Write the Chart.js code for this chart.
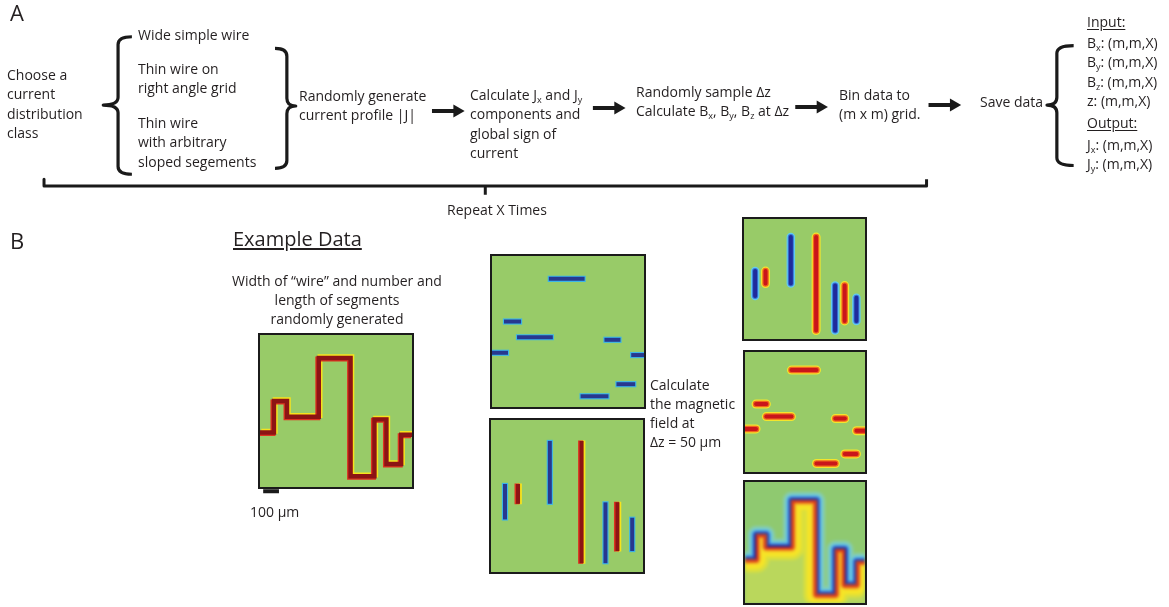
<!DOCTYPE html>
<html>
<head>
<meta charset="utf-8">
<script src="https://cdn.jsdelivr.net/npm/chart.js@4/dist/chart.umd.min.js"></script>
<style>
  html, body { margin: 0; padding: 0; background: #fff; }
  #page { position: relative; width: 1169px; height: 607px; overflow: hidden;
          font-family: "Open Sans", sans-serif; color: #231f20; }
  #flow { position: absolute; left: 0; top: 0; }
  .panel { position: absolute; border: 2px solid #1b1b1b; overflow: hidden; }
  .panel canvas { display: block; }
  .t { position: absolute; font-size: 14px; line-height: 19.5px; white-space: nowrap; }
  .t sub { font-size: 9px; vertical-align: -3px; line-height: 0; }
  .u { text-decoration: underline; text-underline-offset: 2px; }
  .big { font-size: 22px; line-height: 22px; }
</style>
</head>
<body>
<div id="page">
  <canvas id="flow" width="1169" height="607"></canvas>

  <div class="t big" style="left:10px;top:1px">A</div>
  <div class="t big" style="left:10px;top:229px">B</div>

  <div class="t" style="left:7px;top:64.6px">Choose a<br>current<br>distribution<br>class</div>
  <div id="classList"></div>
  <div class="t" style="left:299px;top:85.6px">Randomly generate<br>current profile |J|</div>
  <div class="t" style="left:470px;top:84.6px">Calculate J<sub>x</sub> and J<sub>y</sub><br>components and<br>global sign of<br>current</div>
  <div class="t" style="left:636px;top:81.6px">Randomly sample &Delta;z<br>Calculate B<sub>x</sub>, B<sub>y</sub>, B<sub>z</sub> at &Delta;z</div>
  <div class="t" style="left:839px;top:84.6px">Bin data to<br>(m x m) grid.</div>
  <div class="t" style="left:980px;top:91.6px">Save data</div>
  <div id="fieldList"></div>
  <div class="t" style="left:397px;top:199.6px;width:200px;text-align:center">Repeat X Times</div>

  <div class="t u" style="left:233px;top:227px;font-size:20px;line-height:24px">Example Data</div>
  <div class="t" style="left:207px;top:271px;width:260px;text-align:center;line-height:19px">Width of &ldquo;wire&rdquo; and number and<br>length of segments<br>randomly generated</div>
  <div class="t" style="left:250px;top:502px">100 &mu;m</div>
  <div class="t" style="left:650px;top:375px;line-height:19px">Calculate<br>the magnetic<br>field at<br>&Delta;z = 50 &mu;m</div>

  <div class="panel" style="left:258px;top:333px"><canvas id="pWire" width="152" height="152"></canvas></div>
  <div class="panel" style="left:490px;top:254px"><canvas id="pJx" width="152" height="151"></canvas></div>
  <div class="panel" style="left:489px;top:418px"><canvas id="pJy" width="152" height="152"></canvas></div>
  <div class="panel" style="left:742px;top:217px;background:#98cb68"><canvas id="pBx" width="121" height="120" style="filter:blur(0.6px)"></canvas></div>
  <div class="panel" style="left:743px;top:350px;background:#98cb68"><canvas id="pBy" width="120" height="120" style="filter:blur(0.6px)"></canvas></div>
  <div class="panel" style="left:743px;top:480px;background:#8fc970"><canvas id="pBz" width="120" height="121" style="filter:blur(1.4px)"></canvas></div>
</div>

<script>
// ---- text content ----
const currentClasses = [
  ['Wide simple wire'],
  ['Thin wire on', 'right angle grid'],
  ['Thin wire', 'with arbitrary', 'sloped segements']
];
const inputFields  = [['B', 'x'], ['B', 'y'], ['B', 'z'], ['z', '']];
const outputFields = [['J', 'x'], ['J', 'y']];
const fieldShape = '(m,m,X)';

// ---- example wire path (panel units 0-100, y measured upward) ----
const wireX = [0, 9.2, 9.2, 17.8, 17.8, 38.7, 38.7, 59.6, 59.6, 75.3, 75.3, 83.2, 83.2, 92.9, 92.9, 100];
const wireY = [35.9, 35.9, 56.6, 56.6, 46.2, 46.2, 84.9, 84.9, 7.1, 7.1, 44.5, 44.5, 15.1, 15.1, 34.4, 34.4];

// ---- text placement ----
(function () {
  const classTops = [24.6, 58.6, 112.6];
  document.getElementById('classList').innerHTML = currentClasses.map((lines, i) =>
    `<div class="t" style="left:138px;top:${classTops[i]}px">${lines.join('<br>')}</div>`).join('');
  const field = f => `${f[0]}${f[1] ? '<sub>' + f[1] + '</sub>' : ''}: ${fieldShape}`;
  const inTops = [32.6, 52, 71.6, 91.1];
  const outTops = [134.6, 153.6];
  let html = `<div class="t u" style="left:1087px;top:11.6px">Input:</div>`;
  html += inputFields.map((f, i) => `<div class="t" style="left:1087px;top:${inTops[i]}px">${field(f)}</div>`).join('');
  html += `<div class="t u" style="left:1087px;top:112.6px">Output:</div>`;
  html += outputFields.map((f, i) => `<div class="t" style="left:1087px;top:${outTops[i]}px">${field(f)}</div>`).join('');
  document.getElementById('fieldList').innerHTML = html;
})();

// ---- colours ----
const NAVY = '#27388f', CYAN = '#3cb6e8', DARKRED = '#8c1414', RED = '#dc3220', YELLOW = '#f7e31c';
const INK = '#1a1a1a';

function line(points, color, width, extra) {
  return Object.assign({
    data: points, showLine: true, borderColor: color, backgroundColor: color,
    borderWidth: width, pointRadius: 0, pointHoverRadius: 0, fill: false, tension: 0,
    borderCapStyle: 'butt', borderJoinStyle: 'miter'
  }, extra || {});
}

// datasets are listed bottom layer first; Chart.js paints lower "order" on top
function layered(datasets) {
  datasets.forEach((d, i) => { d.order = datasets.length - i; });
  return datasets;
}

// background colour of each panel's plot area
const panelBg = {
  id: 'panelBg',
  beforeDraw(chart, args, opts) {
    if (!opts.color) return;
    const a = chart.chartArea, ctx = chart.ctx;
    ctx.save(); ctx.fillStyle = opts.color;
    ctx.fillRect(a.left, a.top, a.right - a.left, a.bottom - a.top);
    ctx.restore();
  }
};

// per-dataset offset and one-sided clipping about the wire path
const layers = {
  id: 'layers',
  beforeDatasetDraw(chart, args) {
    const ds = chart.data.datasets[args.index];
    if (!ds.side && !ds.shift) return;
    const ctx = chart.ctx, xs = chart.scales.x, ys = chart.scales.y;
    ctx.save();
    if (ds.side) {
      ctx.beginPath();
      ds.sidePath.forEach((p, i) => {
        const px = xs.getPixelForValue(p.x), py = ys.getPixelForValue(p.y);
        i ? ctx.lineTo(px, py) : ctx.moveTo(px, py);
      });
      const edge = ds.side === 'below' ? ys.min : ys.max;
      const pad = ds.side === 'below' ? 4 : -4;
      const last = ds.sidePath[ds.sidePath.length - 1], first = ds.sidePath[0];
      ctx.lineTo(xs.getPixelForValue(last.x) + 4, ys.getPixelForValue(last.y));
      ctx.lineTo(xs.getPixelForValue(last.x) + 4, ys.getPixelForValue(edge) + pad);
      ctx.lineTo(xs.getPixelForValue(first.x) - 4, ys.getPixelForValue(edge) + pad);
      ctx.lineTo(xs.getPixelForValue(first.x) - 4, ys.getPixelForValue(first.y));
      ctx.closePath();
      ctx.clip();
    }
    if (ds.shift) ctx.translate(ds.shift[0], ds.shift[1]);
  },
  afterDatasetDraw(chart, args) {
    const ds = chart.data.datasets[args.index];
    if (ds.side || ds.shift) chart.ctx.restore();
  }
};

function makePanel(id, datasets, bg) {
  return new Chart(document.getElementById(id), {
    type: 'scatter',
    data: { datasets: layered(datasets) },
    options: {
      responsive: false, animation: false, events: [],
      layout: { padding: 0 },
      scales: {
        x: { type: 'linear', min: 0, max: 100, display: false },
        y: { type: 'linear', min: 0, max: 100, display: false }
      },
      plugins: { legend: { display: false }, tooltip: { enabled: false }, panelBg: { color: bg } }
    },
    plugins: [panelBg, layers]
  });
}

// ---- split the path into straight runs with their direction ----
const wirePts = wireX.map((x, i) => ({ x, y: wireY[i] }));
const runs = [];
for (let i = 1; i < wirePts.length; i++) {
  const a = wirePts[i - 1], b = wirePts[i];
  const horiz = a.y === b.y;
  runs.push({ pts: [a, b], horiz, dir: Math.sign(horiz ? b.x - a.x : b.y - a.y) });
}
const hRuns = runs.filter(r => r.horiz);
const vRuns = runs.filter(r => !r.horiz);

// sharp current-density strokes
function currentStroke(r) {
  const blue = r.dir > 0;
  const sq = { borderCapStyle: 'square' };
  if (blue) return [line(r.pts, CYAN, 6.2, sq), line(r.pts, NAVY, 4, sq)];
  const sx = r.horiz ? [0, -1.2] : [1.3, 0], rx = r.horiz ? [0, 1] : [-1, 0];
  return [
    line(r.pts, YELLOW, 5, Object.assign({ shift: sx }, sq)),
    line(r.pts, RED, 5, Object.assign({ shift: rx }, sq)),
    line(r.pts, DARKRED, 4, sq)
  ];
}
// smooth magnetic-field strokes
function fieldStroke(r, red) {
  const rc = { borderCapStyle: 'round' };
  if (red) return [line(r.pts, '#f4e52c', 9, rc), line(r.pts, '#f2661e', 6.5, rc), line(r.pts, '#c9161a', 4, rc)];
  return [line(r.pts, '#62cbf0', 8.5, rc), line(r.pts, '#3a76d6', 6, rc), line(r.pts, '#1e2b9c', 4, rc)];
}

// panel: example wire
makePanel('pWire', [
  line(wirePts, YELLOW, 5, { shift: [1.2, -1.2] }),
  line(wirePts, RED, 5, { shift: [-1, 1] }),
  line(wirePts, DARKRED, 4.4)
], '#98cb68');

// panels: Jx and Jy
makePanel('pJx', hRuns.flatMap(currentStroke), '#98cb68');
makePanel('pJy', vRuns.flatMap(currentStroke), '#98cb68');

// panels: Bx and By
makePanel('pBx', vRuns.flatMap(r => fieldStroke(r, r.dir < 0)), '#98cb68');
makePanel('pBy', hRuns.flatMap(r => fieldStroke(r, r.dir > 0)), '#98cb68');

// panel: Bz — positive below the path, negative above
const up = { side: 'above', sidePath: wirePts, borderJoinStyle: 'round' };
const dn = { side: 'below', sidePath: wirePts, borderJoinStyle: 'round' };
makePanel('pBz', [
  line(wirePts, 'rgba(0,0,0,0)', 0, { fill: 'start', backgroundColor: '#bad75c' }),
  line(wirePts, '#86cdb0', 17, up),
  line(wirePts, '#5ec6ee', 11, up),
  line(wirePts, '#3a6fd2', 7, up),
  line(wirePts, '#1e2a9a', 4, up),
  line(wirePts, '#dadf3c', 26, dn),
  line(wirePts, '#f6e426', 19, dn),
  line(wirePts, '#f4a424', 9, dn),
  line(wirePts, '#d62618', 5, dn)
], '#8fc970');

// ---- flow diagram connectors ----
function arrow(x1, x2, y) {
  const r = 7.5;
  return {
    data: [{ x: x1, y }, { x: x2 - r, y }], showLine: true,
    borderColor: INK, borderWidth: 4, fill: false,
    pointRadius: [0, r], pointStyle: 'triangle', pointRotation: 90,
    pointBackgroundColor: INK, pointBorderWidth: 0, pointHoverRadius: 0
  };
}
const braces = [
  { xv: 112, top: 30, bottom: 171, tipX: 97, tipY: 100, hook: 126 },
  { xv: 283, top: 42, bottom: 165, tipX: 292, tipY: 101, hook: 271 },
  { xv: 1063, top: 39, bottom: 162, tipX: 1053, tipY: 100, hook: 1080 }
];
const bracePlugin = {
  id: 'braces',
  afterDatasetsDraw(chart) {
    const ctx = chart.ctx, X = v => chart.scales.x.getPixelForValue(v), Y = v => chart.scales.y.getPixelForValue(v);
    ctx.save();
    ctx.strokeStyle = INK; ctx.lineWidth = 3.2; ctx.lineCap = 'butt'; ctx.lineJoin = 'round';
    braces.forEach(b => {
      const r = 8;
      ctx.beginPath();
      ctx.moveTo(X(b.hook), Y(b.top));
      ctx.quadraticCurveTo(X(b.xv), Y(b.top), X(b.xv), Y(b.top + r));
      ctx.lineTo(X(b.xv), Y(b.tipY - r));
      ctx.quadraticCurveTo(X(b.xv), Y(b.tipY), X(b.tipX), Y(b.tipY));
      ctx.quadraticCurveTo(X(b.xv), Y(b.tipY), X(b.xv), Y(b.tipY + r));
      ctx.lineTo(X(b.xv), Y(b.bottom - r));
      ctx.quadraticCurveTo(X(b.xv), Y(b.bottom), X(b.hook), Y(b.bottom));
      ctx.stroke();
    });
    ctx.restore();
  }
};

new Chart(document.getElementById('flow'), {
  type: 'scatter',
  data: {
    datasets: [
      arrow(430, 463, 106),
      arrow(593, 626, 103),
      arrow(798, 831, 102),
      arrow(933, 966, 100),
      line([{ x: 37, y: 176 }, { x: 37, y: 183 }, { x: 931, y: 183 }, { x: 931, y: 176 }], INK, 3, { borderJoinStyle: 'round' }),
      line([{ x: 484, y: 183 }, { x: 484, y: 192 }], INK, 3),
      line([{ x: 259, y: 496 }, { x: 275, y: 496 }], INK, 4)
    ]
  },
  options: {
    responsive: false, animation: false, events: [],
    layout: { padding: 0 },
    scales: {
      x: { type: 'linear', min: 0, max: 1169, display: false },
      y: { type: 'linear', min: 0, max: 607, reverse: true, display: false }
    },
    plugins: { legend: { display: false }, tooltip: { enabled: false } }
  },
  plugins: [bracePlugin]
});
</script>
</body>
</html>
